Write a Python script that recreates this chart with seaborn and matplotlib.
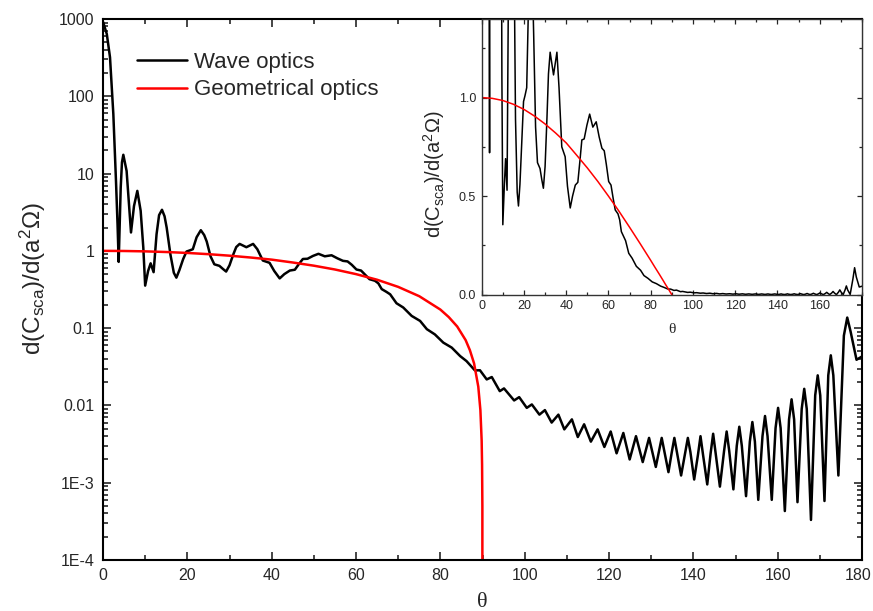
import matplotlib
matplotlib.use("Agg")
import matplotlib.pyplot as plt
import matplotlib.transforms as mtransforms
from matplotlib.ticker import MultipleLocator, LogLocator, NullFormatter
import seaborn as sns

# angle (deg) and differential cross section
wave_theta = [
    0.0, 0.9, 1.66, 2.45, 3.08, 3.45, 3.72, 4.2, 4.5, 4.82, 5.6, 6.64, 7.35, 8.14,
    8.93, 9.56, 10.0, 10.7, 11.3, 12.0, 12.7, 13.3, 13.99, 14.6, 15.1, 16.0, 16.8,
    17.4, 18.1, 19.0, 19.8, 20.5, 21.3, 22.2, 23.2, 24.0, 24.6, 25.5, 26.4, 27.6,
    28.5, 29.2, 30.0, 30.9, 31.6, 32.4, 34.0, 35.6, 36.6, 37.9, 39.5, 40.6, 41.9,
    43.0, 44.3, 45.5, 46.5, 47.4, 48.5, 49.8, 51.1, 52.6, 54.2, 55.6, 56.9, 58.0,
    59.0, 60.1, 61.2, 62.2, 63.2, 64.5, 65.3, 66.1, 67.2, 68.1, 69.6, 71.2, 73.2,
    75.2, 76.8, 78.7, 80.7, 82.7, 84.7, 86.2, 88.2, 89.4, 91.0, 92.2, 94.1, 95.1,
    97.5, 98.7, 100.5, 101.7, 103.5, 104.8, 106.4, 108.0, 109.4, 111.2, 112.6,
    114.1, 115.7, 117.3, 118.9, 120.4, 121.8, 123.4, 124.9, 126.4, 128.0, 129.5,
    131.1, 132.5, 134.1, 134.9, 135.5, 136.1, 137.1, 138.1, 138.7, 139.3, 140.2,
    141.1, 141.7, 142.3, 143.3, 144.1, 144.7, 145.3, 146.3, 147.3, 147.9, 148.5,
    149.5, 150.3, 150.9, 151.5, 152.5, 153.4, 154.0, 154.6, 155.4, 156.4, 157.0,
    157.6, 158.6, 159.5, 160.1, 160.7, 161.7, 162.7, 163.3, 163.9, 164.7, 165.7,
    166.3, 166.9, 167.9, 168.9, 169.5, 170.1, 171.1, 172.0, 172.6, 173.2, 174.4,
    175.7, 176.5, 177.3, 178.7, 180.0,
]
wave_value = [
    920, 640, 320, 59, 8.0, 2.2, 0.72, 6.6, 14, 17.5, 10.8, 1.73, 3.8, 5.97,
    3.3, 1.1, 0.355, 0.55, 0.69, 0.53, 1.64, 2.9, 3.4, 2.8, 2.0, 0.89, 0.52,
    0.45, 0.56, 0.78, 0.98, 1.01, 1.05, 1.5, 1.85, 1.6, 1.32, 0.85, 0.67, 0.64,
    0.58, 0.54, 0.65, 0.9, 1.12, 1.23, 1.115, 1.23, 1.05, 0.75, 0.70, 0.55, 0.44,
    0.50, 0.556, 0.57, 0.68, 0.785, 0.79, 0.86, 0.916, 0.85, 0.877, 0.80, 0.743, 0.73,
    0.66, 0.574, 0.556, 0.49, 0.43, 0.41, 0.38, 0.32, 0.295, 0.274, 0.21, 0.185, 0.144,
    0.124, 0.097, 0.083, 0.065, 0.056, 0.0435, 0.0375, 0.0284, 0.0285, 0.0217, 0.0233, 0.0153, 0.0166,
    0.0116, 0.0128, 0.0093, 0.0103, 0.0076, 0.0087, 0.0060, 0.0076, 0.0049, 0.0066, 0.0039,
    0.0057, 0.0034, 0.0049, 0.0029, 0.0046, 0.0024, 0.0044, 0.0020, 0.0040, 0.00185, 0.0038,
    0.0016, 0.0038, 0.00137, 0.0025, 0.0038, 0.0025, 0.00124, 0.0025, 0.0038, 0.0025, 0.0011,
    0.0023, 0.0040, 0.0023, 0.00095, 0.0024, 0.0043, 0.0024, 0.00089, 0.0026, 0.0046, 0.0026,
    0.00082, 0.0030, 0.0053, 0.0030, 0.00067, 0.0034, 0.0061, 0.0034, 0.00060, 0.0040, 0.0073,
    0.0040, 0.00060, 0.0051, 0.0093, 0.0051, 0.00043, 0.0066, 0.0120, 0.0066, 0.00056, 0.0090,
    0.0164, 0.0090, 0.00033, 0.0135, 0.0245, 0.0135, 0.00058, 0.0245, 0.0445, 0.0245, 0.00124,
    0.080, 0.137, 0.090, 0.039, 0.043,
]

geo_theta = [0, 5, 10, 15, 20, 25, 30, 35, 40, 45, 50, 55, 60, 65, 70, 75, 80, 82,
             84, 86, 87, 88, 89, 89.5, 89.8, 89.9, 89.97, 90.0]
geo_value = [1.0, 0.996, 0.985, 0.966, 0.94, 0.906, 0.866, 0.82, 0.77, 0.707, 0.643,
             0.574, 0.5, 0.423, 0.342, 0.259, 0.174, 0.139, 0.105, 0.07, 0.052, 0.035,
             0.0175, 0.0087, 0.0035, 0.0017, 0.0005, 0.0]

main_yticks = [1e-4, 1e-3, 1e-2, 1e-1, 1, 10, 100, 1000]
main_yticklabels = ["1E-4", "1E-3", "0.01", "0.1", "1", "10", "100", "1000"]
ylabel_text = r"d(C$_{\mathrm{sca}}$)/d(a$^{\mathrm{2}}$Ω)"

sns.set_style("ticks")
plt.rcParams["font.family"] = ["Liberation Sans", "DejaVu Sans"]
plt.rcParams["mathtext.fontset"] = "custom"
plt.rcParams["mathtext.rm"] = "Liberation Sans"
plt.rcParams["mathtext.it"] = "Liberation Sans"

fig = plt.figure(figsize=(8.73, 6.11), dpi=100)
ax = fig.add_axes([103 / 873, 51 / 611, 759 / 873, 541 / 611])

sns.lineplot(x=wave_theta, y=wave_value, ax=ax, color="black", linewidth=1.8,
             estimator=None, sort=False, label="Wave optics")
sns.lineplot(x=geo_theta, y=geo_value, ax=ax, color="#ff0000", linewidth=1.8,
             estimator=None, sort=False, label="Geometrical optics")

ax.set_yscale("log")
ax.set_xlim(0, 180)
ax.set_ylim(1e-4, 1000)
ax.set_xticks(range(0, 181, 20))
ax.xaxis.set_minor_locator(MultipleLocator(10))
ax.set_yticks(main_yticks)
ax.set_yticklabels(main_yticklabels)
ax.yaxis.set_minor_locator(LogLocator(base=10, subs=range(2, 10)))
ax.yaxis.set_minor_formatter(NullFormatter())
ax.tick_params(which="both", direction="in", top=True, right=True, width=1.2,
               labelsize=11.5, pad=6)
ax.tick_params(which="major", length=6)
ax.tick_params(which="minor", length=3.5)
for s in ax.spines.values():
    s.set_linewidth(1.5)
    s.set_color("black")

# keep the "180" label inside the canvas
last = ax.get_xticklabels()[-1]
last.set_transform(last.get_transform()
                   + mtransforms.ScaledTranslation(-4 / 100, 0, fig.dpi_scale_trans))

ax.set_xlabel("θ", family=["Liberation Serif"], fontsize=16, labelpad=7)
ax.set_ylabel(ylabel_text, fontsize=17.5)
ax.yaxis.set_label_coords(-0.072, 0.52)

ax.legend(loc="upper left", bbox_to_anchor=(0.033, 0.956), borderaxespad=0,
          frameon=False, fontsize=16, handlelength=2.25, handletextpad=0.3,
          labelspacing=0.3)

# inset, linear scale
ins = fig.add_axes([481.7 / 873, 316.3 / 611, (862 - 481.7) / 873, (295 - 19) / 611])
ins.set_facecolor("white")
sns.lineplot(x=wave_theta, y=wave_value, ax=ins, color="black", linewidth=1.1,
             estimator=None, sort=False, legend=False)
sns.lineplot(x=geo_theta, y=geo_value, ax=ins, color="#ff0000", linewidth=1.1,
             estimator=None, sort=False, legend=False)
ins.set_xlim(0, 180)
ins.set_ylim(0, 1.4)
ins.set_xticks(range(0, 161, 20))
ins.xaxis.set_minor_locator(MultipleLocator(10))
ins.set_yticks([0.0, 0.5, 1.0])
ins.set_yticklabels(["0.0", "0.5", "1.0"])
ins.yaxis.set_minor_locator(MultipleLocator(0.25))
ins.tick_params(which="both", direction="in", top=True, right=True, width=0.9,
                labelsize=9, pad=4)
ins.tick_params(which="major", length=3.5)
ins.tick_params(which="minor", length=2)
for s in ins.spines.values():
    s.set_linewidth(1.0)
    s.set_color("#333333")
ins.set_xlabel("θ", family=["Liberation Serif"], fontsize=11, labelpad=8)
ins.set_ylabel(ylabel_text, fontsize=14.5)
ins.yaxis.set_label_coords(-0.091, 0.435)

fig.savefig("out.png", dpi=100)
